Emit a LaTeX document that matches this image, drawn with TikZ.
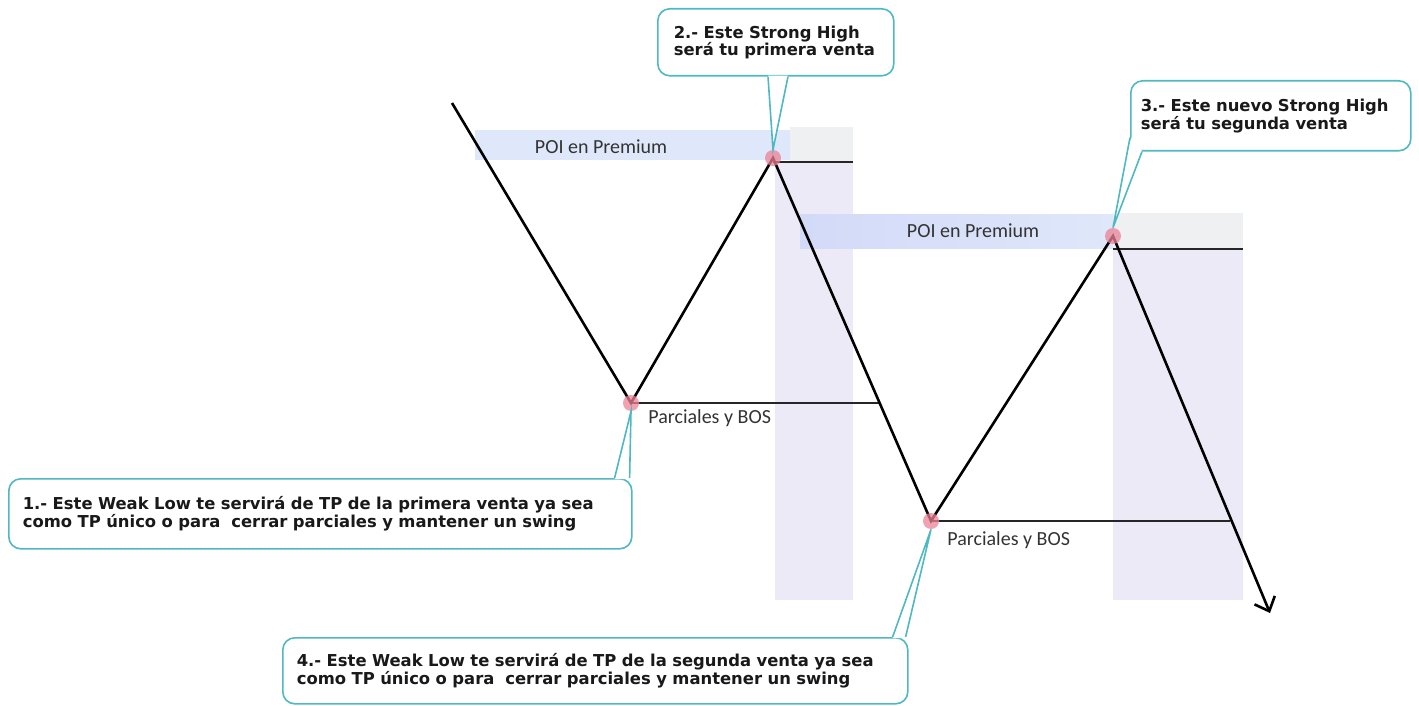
\documentclass[tikz,border=0pt]{standalone}
\usepackage{fontspec}
\setmainfont{Carlito}
\newfontfamily\calloutfont{DejaVu Sans}
\usetikzlibrary{arrows.meta, positioning, calc}

\definecolor{poiblue}{RGB}{223,231,250}
\definecolor{poiblueleft}{RGB}{210,218,248}
\definecolor{poigray}{RGB}{238,240,242}
\definecolor{zonepurple}{RGB}{237,234,247}
\definecolor{dotred}{RGB}{236,130,150}
\definecolor{calloutline}{RGB}{79,184,193}

\begin{document}
\begin{tikzpicture}[
        x=0.5pt, y=-0.5pt,
        leg/.style={line width=1.3pt, black},
        bos/.style={line width=0.6pt, black!85},
        dot/.style={circle, fill=dotred, opacity=0.75, minimum size=8pt, inner sep=0pt},
        callout/.style={rectangle, draw=calloutline, line width=0.8pt, rounded corners=6pt, fill=white, anchor=north west, align=left, inner ysep=0pt, text=black!90, font=\calloutfont\bfseries\fontsize{8.2}{8.8}\selectfont},
        tail/.style={draw=calloutline, line width=0.8pt},
        lbl/.style={inner sep=0pt, text=black!80, font=\fontsize{10}{11}\selectfont}
    ]
        \useasboundingbox (0,0) rectangle (1419,706);

        % Premium zones
        \fill[poiblue] (475,130) rectangle (790,160);
        \fill[poigray] (790,127) rectangle (853,162);
        \fill[zonepurple] (775,162) rectangle (853,600);
        \draw[bos] (773,162) -- (853,162);
        \shade[left color=poiblueleft, right color=poiblue] (800,214) rectangle (1113,248);
        \fill[poigray] (1113,213) rectangle (1243,249);
        \fill[zonepurple] (1113,249) rectangle (1243,600);
        \draw[bos] (1113,249) -- (1243,249);

        \node[lbl] (poi1) at (601,147) {POI en Premium};
        \node[lbl] (poi2) at (973,231) {POI en Premium};

        % Swing points
        \coordinate (s0) at (452,103);
        \coordinate (l1) at (631,403);
        \coordinate (h1) at (773,158);
        \coordinate (l2) at (931,521);
        \coordinate (h2) at (1113,236);
        \coordinate (e) at (1270,613);
        \coordinate (b1) at (879,403);
        \coordinate (b2) at (1230,521);

        % Price path and BOS lines
        \draw[bos] (l1) -- (b1);
        \draw[bos] (l2) -- (b2);
        \draw[leg, -{Straight Barb[length=6pt, width=11pt]}] (s0) -- (l1) -- (h1) -- (l2) -- (h2) -- (e);

        \node[lbl, anchor=west] (bos1) at (648,418) {Parciales y BOS};
        \node[lbl, anchor=west] (bos2) at (947,540) {Parciales y BOS};

        % Dots
        \node[dot] (d1) at (l1) {};
        \node[dot] (d2) at (h1) {};
        \node[dot] (d3) at (h2) {};
        \node[dot] (d4) at (l2) {};

        % Callouts
        \node[callout, inner xsep=7pt, text width=297.5pt, minimum height=35pt] (c1) at (8,478)
            {1.- Este Weak Low te servirá de TP de la primera venta ya sea\\como TP único o para \ cerrar parciales y mantener un swing};
        \node[callout, inner xsep=8pt, text width=102pt, minimum height=33.5pt] (c2) at (657,8)
            {2.- Este Strong High\\será tu primera venta};
        \node[callout, inner xsep=5pt, text width=130pt, minimum height=35pt] (c3) at (1130,80)
            {3.- Este nuevo Strong High\\será tu segunda venta};
        \node[callout, inner xsep=7pt, text width=298.5pt, minimum height=33pt] (c4) at (282,637)
            {4.- Este Weak Low te servirá de TP de la segunda venta ya sea\\como TP único o para \ cerrar parciales y mantener un swing};

        % Callout tails
        \fill[white] ($(c1.north east)+(-18,1)$) -- (d1.south) -- ($(c1.north east)+(-3,1)$) -- cycle;
        \draw[tail] ($(c1.north east)+(-18,0)$) -- (d1.south) -- ($(c1.north east)+(-3,0)$);
        \fill[white] ($(c2.south west)+(111,-1)$) -- (d2.north) -- ($(c2.south west)+(131,-1)$) -- cycle;
        \draw[tail] ($(c2.south west)+(111,0)$) -- (d2.north) -- ($(c2.south west)+(131,0)$);
        \fill[white] ($(c3.south west)+(1,-14)$) -- (d3.north) -- ($(c3.south west)+(12,-1)$) -- cycle;
        \draw[tail] ($(c3.south west)+(0,-14)$) -- (d3.north) -- ($(c3.south west)+(12,0)$);
        \fill[white] ($(c4.north east)+(-16,1)$) -- (d4.south) -- ($(c4.north east)+(-3,1)$) -- cycle;
        \draw[tail] ($(c4.north east)+(-16,0)$) -- (d4.south) -- ($(c4.north east)+(-3,0)$);
\end{tikzpicture}
\end{document}
